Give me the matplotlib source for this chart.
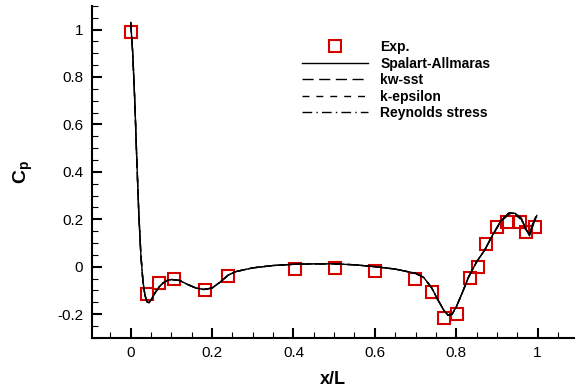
import matplotlib
matplotlib.use('Agg')
import matplotlib.pyplot as plt
from matplotlib.ticker import MultipleLocator

plt.rcParams['font.family'] = ['Liberation Sans', 'DejaVu Sans']
plt.rcParams['mathtext.fontset'] = 'custom'
plt.rcParams['mathtext.rm'] = 'Liberation Sans'
plt.rcParams['mathtext.bf'] = 'Liberation Sans:bold'

# Experimental pressure coefficient
exp_x = [0.0, 0.039, 0.069, 0.106, 0.183, 0.24, 0.403, 0.503, 0.60, 0.699, 0.74,
         0.769, 0.803, 0.833, 0.853, 0.872, 0.90, 0.925, 0.956, 0.972, 0.993]
exp_cp = [0.99, -0.116, -0.07, -0.053, -0.098, -0.039, -0.010, -0.007, -0.018, -0.051, -0.105,
          -0.218, -0.20, -0.046, -0.003, 0.094, 0.169, 0.19, 0.19, 0.145, 0.166]

# CFD surface distributions
cfd_x = [0.0, 0.005, 0.010, 0.015, 0.020, 0.025, 0.030, 0.035, 0.040, 0.045, 0.050,
         0.060, 0.070, 0.080, 0.090, 0.100, 0.120, 0.140, 0.160, 0.180, 0.200,
         0.220, 0.240, 0.260, 0.300, 0.350, 0.400, 0.450, 0.500, 0.550, 0.600,
         0.650, 0.700, 0.720, 0.740, 0.755, 0.770, 0.780, 0.790, 0.800, 0.815,
         0.830, 0.850, 0.870, 0.890, 0.910, 0.930, 0.945, 0.960, 0.970, 0.980,
         0.990, 0.998]
sa_cp = [1.03, 0.90, 0.70, 0.45, 0.22, 0.05, -0.06, -0.12, -0.148, -0.152, -0.14,
         -0.11, -0.085, -0.068, -0.058, -0.054, -0.058, -0.075, -0.09, -0.096, -0.09,
         -0.065, -0.035, -0.02, -0.005, 0.005, 0.010, 0.012, 0.012, 0.008, 0.0,
         -0.01, -0.028, -0.045, -0.09, -0.14, -0.185, -0.205, -0.20, -0.17, -0.11,
         -0.045, 0.02, 0.07, 0.135, 0.195, 0.228, 0.225, 0.205, 0.165, 0.13,
         0.18, 0.215]
sst_cp = [1.03, 0.90, 0.70, 0.45, 0.22, 0.05, -0.06, -0.12, -0.148, -0.152, -0.14,
          -0.11, -0.085, -0.068, -0.058, -0.054, -0.058, -0.075, -0.09, -0.096, -0.09,
          -0.065, -0.035, -0.02, -0.005, 0.005, 0.010, 0.012, 0.012, 0.008, 0.0,
          -0.01, -0.028, -0.045, -0.09, -0.14, -0.185, -0.205, -0.20, -0.17, -0.11,
          -0.045, 0.02, 0.07, 0.135, 0.19, 0.222, 0.222, 0.20, 0.16, 0.135,
          0.19, 0.22]
ke_cp = [1.03, 0.90, 0.70, 0.45, 0.22, 0.05, -0.06, -0.12, -0.148, -0.152, -0.14,
         -0.11, -0.085, -0.068, -0.058, -0.054, -0.058, -0.075, -0.09, -0.096, -0.09,
         -0.065, -0.035, -0.02, -0.005, 0.005, 0.010, 0.012, 0.012, 0.008, 0.0,
         -0.01, -0.028, -0.045, -0.09, -0.14, -0.185, -0.205, -0.20, -0.17, -0.11,
         -0.045, 0.02, 0.07, 0.135, 0.192, 0.225, 0.22, 0.198, 0.16, 0.14,
         0.19, 0.21]
rs_cp = [1.03, 0.90, 0.70, 0.45, 0.22, 0.05, -0.06, -0.12, -0.148, -0.152, -0.14,
         -0.11, -0.085, -0.068, -0.058, -0.054, -0.058, -0.075, -0.09, -0.096, -0.09,
         -0.065, -0.035, -0.02, -0.005, 0.005, 0.010, 0.012, 0.012, 0.008, 0.0,
         -0.01, -0.028, -0.045, -0.09, -0.14, -0.185, -0.205, -0.20, -0.17, -0.11,
         -0.045, 0.02, 0.07, 0.135, 0.193, 0.226, 0.224, 0.202, 0.162, 0.135,
         0.185, 0.22]

fig = plt.figure(figsize=(5.8, 3.91), dpi=100)
ax = fig.add_axes([0.158, 0.136, 0.832, 0.849])

ax.plot(exp_x, exp_cp, 's', mfc='none', mec='#d40000', mew=1.5, ms=8.5, label='Exp.')
ax.plot(cfd_x, sa_cp, 'k-', lw=1.0, label='Spalart-Allmaras')
ax.plot(cfd_x, sst_cp, 'k-', lw=1.0, dashes=(8, 4), label='kw-sst')
ax.plot(cfd_x, ke_cp, 'k-', lw=1.0, dashes=(5, 5), label='k-epsilon')
ax.plot(cfd_x, rs_cp, 'k-', lw=1.0, dashes=(7, 3, 1, 3), label='Reynolds stress')

ax.set_xlim(-0.096, 1.09)
ax.set_ylim(-0.30, 1.10)
ax.xaxis.set_minor_locator(MultipleLocator(0.05))
ax.yaxis.set_minor_locator(MultipleLocator(0.05))
ax.set_xticks([0, 0.2, 0.4, 0.6, 0.8, 1.0])
ax.set_xticklabels(['0', '0.2', '0.4', '0.6', '0.8', '1'])
ax.set_yticks([-0.2, 0, 0.2, 0.4, 0.6, 0.8, 1.0])
ax.set_yticklabels(['-0.2', '0', '0.2', '0.4', '0.6', '0.8', '1'])

for s in ['top', 'right']:
    ax.spines[s].set_visible(False)
for s in ['left', 'bottom']:
    ax.spines[s].set_linewidth(1.5)
ax.tick_params(which='major', direction='in', length=7, width=1.5, labelsize=11, pad=6)
ax.tick_params(which='minor', direction='in', length=4, width=0.8)

ax.set_xlabel('x/L', fontsize=13, fontweight='bold', labelpad=8)
ax.set_ylabel(r'$\mathbf{C_p}$', fontsize=14, labelpad=16)

ax.legend(loc='upper left', bbox_to_anchor=(0.422, 0.918), frameon=False,
          prop={'weight': 'bold', 'size': 10}, handlelength=4.7,
          handletextpad=0.93, labelspacing=0.18, borderpad=0)

fig.savefig('out.png', dpi=100)
